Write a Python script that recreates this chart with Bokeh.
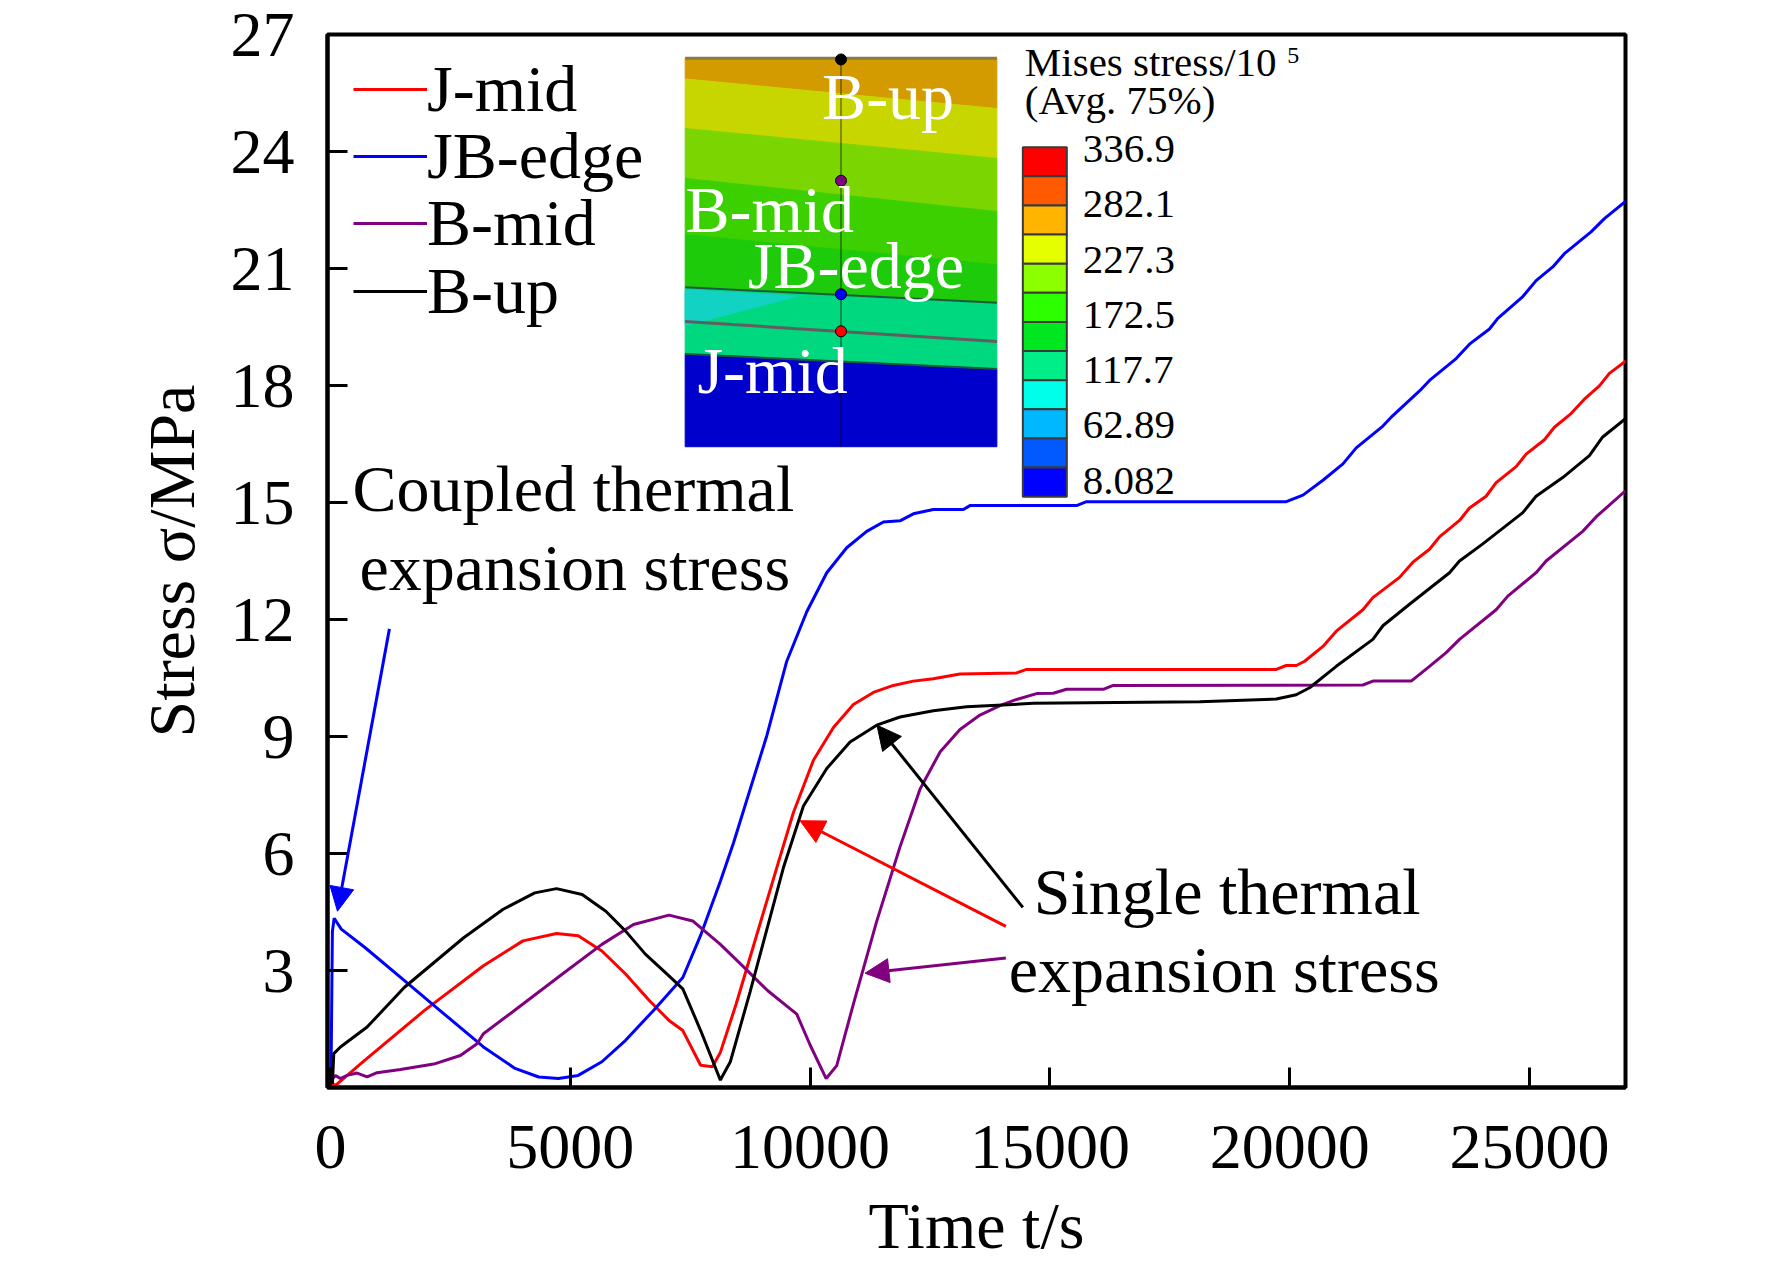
import numpy as np
from bokeh.plotting import figure
from bokeh.models import Range1d, FixedTicker, Arrow, NormalHead, Legend, LegendItem
from bokeh.core.properties import value
from bokeh.embed import file_html
from bokeh.resources import INLINE

FONT = "Liberation Serif"

# ---- stress histories (time in s, stress in MPa) ----
t_jmid = [0, 100, 719, 1954, 3189, 4013, 4713, 5165, 5659, 6153, 6647, 7058, 7346, 7717, 7964,
          8129, 8458, 8952, 9365, 9652, 10069, 10486, 10902, 11319, 11736, 12152, 12569, 13125,
          14305, 14513, 19720, 19928, 20136, 20310, 20692, 20970, 21525, 21733, 22289, 22567,
          22914, 23122, 23539, 23747, 24094, 24303, 24720, 24928, 25310, 25518, 25865, 26143,
          26456, 26664, 27000]
s_jmid = [0.15, 0.05, 0.70, 1.97, 3.12, 3.76, 3.95, 3.89, 3.50, 2.91, 2.23, 1.72, 1.46, 0.57, 0.53,
          0.90, 2.14, 4.18, 5.88, 7.05, 8.39, 9.23, 9.82, 10.13, 10.31, 10.42, 10.48, 10.60,
          10.63, 10.72, 10.72, 10.82, 10.82, 10.93, 11.31, 11.70, 12.25, 12.56, 13.08, 13.47,
          13.80, 14.12, 14.54, 14.86, 15.16, 15.51, 15.92, 16.24, 16.61, 16.93, 17.28, 17.65,
          17.99, 18.31, 18.62]

t_jbedge = [10, 40, 77, 225, 719, 1543, 2366, 3189, 3848, 4342, 4753, 5165, 5659, 6153, 6730,
            7346, 7717, 8129, 8402, 9097, 9513, 9930, 10347, 10763, 11180, 11527, 11874, 12152,
            12569, 13194, 13333, 15555, 15763, 19928, 20275, 20692, 21109, 21386, 21942, 22150,
            22706, 22914, 23469, 23747, 24164, 24338, 24859, 25136, 25483, 25726, 26282, 26560,
            27000]
s_jbedge = [0.10, 4.00, 4.34, 4.06, 3.59, 2.74, 1.89, 1.04, 0.49, 0.27, 0.23, 0.31, 0.66, 1.21, 1.97,
            2.82, 3.90, 5.29, 6.27, 9.02, 10.93, 12.20, 13.20, 13.84, 14.26, 14.50, 14.53, 14.71,
            14.82, 14.82, 14.92, 14.92, 15.02, 15.02, 15.19, 15.57, 15.99, 16.40, 16.96, 17.23,
            17.86, 18.13, 18.69, 19.06, 19.45, 19.72, 20.28, 20.69, 21.04, 21.38, 21.94, 22.28,
            22.72]

t_bmid = [30, 104, 208, 347, 556, 764, 972, 1458, 2153, 2708, 3055, 3189, 4013, 4836, 5659, 6318,
          7058, 7552, 8129, 8624, 9118, 9722, 10000, 10335, 10555, 10902, 11388, 11874, 12291,
          12708, 13125, 13541, 13958, 14305, 14722, 15069, 15347, 16111, 16319, 21525, 21733,
          22532, 22914, 23261, 23539, 24303, 24546, 25136, 25344, 26108, 26386, 27000]
s_bmid = [0.20, 0.31, 0.23, 0.31, 0.37, 0.27, 0.38, 0.46, 0.60, 0.82, 1.12, 1.38, 2.14, 2.91, 3.67,
          4.18, 4.42, 4.27, 3.67, 3.08, 2.48, 1.88, 1.09, 0.23, 0.56, 2.14, 4.26, 6.17, 7.65,
          8.60, 9.18, 9.55, 9.79, 9.95, 10.10, 10.11, 10.21, 10.21, 10.31, 10.32, 10.42,
          10.42, 10.80, 11.15, 11.49, 12.25, 12.60, 13.20, 13.50, 14.26, 14.63, 15.30]

t_bup = [40, 69, 208, 764, 1543, 2777, 3601, 4259, 4713, 5247, 5741, 6153, 6565, 6978, 7346, 7718,
         8129, 8337, 8750, 9444, 9861, 10347, 10833, 11388, 11874, 12569, 13263, 14652, 18124,
         19720, 20136, 20414, 20970, 21733, 21942, 22497, 23331, 23539, 24025, 24859, 25136,
         25691, 26247, 26525, 27000]
s_bup = [0.10, 0.87, 1.04, 1.55, 2.57, 3.84, 4.57, 4.99, 5.10, 4.95, 4.52, 4.01, 3.42, 2.95, 2.53,
         1.46, 0.19, 0.66, 2.46, 5.64, 7.22, 8.18, 8.86, 9.29, 9.50, 9.66, 9.76, 9.85, 9.89,
         9.96, 10.07, 10.25, 10.80, 11.49, 11.84, 12.39, 13.20, 13.50, 13.94, 14.74, 15.16,
         15.64, 16.20, 16.68, 17.15]

series_names = ["J-mid", "JB-edge", "B-mid", "B-up"]
series_colors = ["#FF0000", "#0000FF", "#800080", "#000000"]

x_ticks = [0, 5000, 10000, 15000, 20000, 25000]
y_ticks = [3, 6, 9, 12, 15, 18, 21, 24, 27]

# ---- inset contour picture (Mises stress) ----
inset_x = [7395, 13894]
inset_left_y = [26.39, 25.86, 24.59, 23.31, 21.87, 20.52, 18.81, 16.43]
inset_right_y = [26.39, 25.10, 23.82, 22.46, 21.10, 20.12, 18.42, 16.43]
inset_colors = ["#D49B00", "#C8D600", "#7BD500", "#3CD000", "#1ECB0A", "#00D880", "#0000CC"]
probe_x = 10644
probe_y = [26.36, 23.25, 20.34, 19.39]
probe_colors = ["#000000", "#800080", "#0000FF", "#FF0000"]
probe_names = ["B-up", "B-mid", "JB-edge", "J-mid"]
probe_label_x = [10250, 7400, 8700, 7650]
probe_label_y = [24.85, 21.96, 20.51, 17.83]

cb_colors = ["#FF0000", "#FF5A00", "#FFB400", "#E6FF00", "#8CFF00", "#2EFF00",
             "#00E620", "#00EE88", "#00FFEA", "#00B8FF", "#005AFF", "#0000FF"]
cb_values = ["336.9", "282.1", "227.3", "172.5", "117.7", "62.89", "8.082"]
cb_label_y = [24.07, 22.65, 21.23, 19.81, 18.39, 16.98, 15.56]

p = figure(width=1764, height=1264, x_range=Range1d(-62, 27000), y_range=Range1d(0, 27),
           output_backend="svg", toolbar_location=None,
           min_border_left=327, min_border_right=139, min_border_top=34, min_border_bottom=170)
p.xgrid.grid_line_color = None
p.ygrid.grid_line_color = None
p.outline_line_color = "black"
p.outline_line_width = 4

# inset bands
for i, c in enumerate(inset_colors):
    p.patch([inset_x[0], inset_x[1], inset_x[1], inset_x[0]],
            [inset_left_y[i], inset_right_y[i], inset_right_y[i + 1], inset_left_y[i + 1]],
            fill_color=c, line_color=c, line_width=1)
p.patch([7395, 9727, 7395], [20.46, 20.29, 19.53], fill_color="#12D2C4", line_color="#12D2C4")
p.line(inset_x, [inset_left_y[0], inset_right_y[0]], line_color="#8B7B3A", line_width=3)
p.line(inset_x, [inset_left_y[5], inset_right_y[5]], line_color="#1D5A3A", line_width=2)
p.line(inset_x, [inset_left_y[6], inset_right_y[6]], line_color="#1D5A3A", line_width=2)
p.line(inset_x, [19.64, 19.13], line_color="#5F5F5F", line_width=3)
p.line([probe_x, probe_x], [inset_left_y[-1], inset_left_y[0]], line_color="black",
       line_alpha=0.35, line_width=2)
p.scatter([probe_x] * 4, probe_y, size=11, fill_color=probe_colors, line_color="black",
          line_width=1)
p.text(probe_label_x, probe_label_y, text=probe_names, text_color="white",
       text_font=value(FONT), text_font_size="66px", text_baseline="alphabetic", y_offset=-22)

# colour bar
edges = np.linspace(24.11, 15.15, len(cb_colors) + 1)
p.quad(left=14435, right=15352, top=edges[:-1], bottom=edges[1:], fill_color=cb_colors,
       line_color="#3A3A3A", line_width=2)
p.text([15685] * len(cb_values), cb_label_y, text=cb_values, text_font=value(FONT),
       text_font_size="41px", text_baseline="middle", text_color="black")
p.text([14477, 14477], [25.94, 24.97], text=["Mises stress/10", "(Avg. 75%)"],
       text_font=value(FONT), text_font_size="41px", text_baseline="alphabetic", y_offset=-14)
p.text([19950], [26.25], text=["5"], text_font=value(FONT), text_font_size="24px",
       text_baseline="alphabetic", y_offset=-8)

# curves, one legend box per entry so the rows sit as tight as in the original
all_t = [t_jmid, t_jbedge, t_bmid, t_bup]
all_s = [s_jmid, s_jbedge, s_bmid, s_bup]
legend_y = [960, 893, 826, 758]
for t, s, name, c, ly in zip(all_t, all_s, series_names, series_colors, legend_y):
    r = p.line(t, s, line_color=c, line_width=3)
    lg = Legend(items=[LegendItem(label=name, renderers=[r])], location=(26, ly),
                label_text_font=FONT, label_text_font_size="66px", label_text_color="black",
                glyph_width=74, glyph_height=60, label_standoff=0, padding=0, margin=0,
                border_line_color=None, background_fill_alpha=0)
    p.add_layout(lg)

# annotations
p.text([459, 604, 14664, 14143], [14.80, 12.78, 4.46, 2.45],
       text=["Coupled thermal", "expansion stress", "Single thermal", "expansion stress"],
       text_font=value(FONT), text_font_size="66px", text_baseline="alphabetic", y_offset=-22)

arrow_start = [(1229, 11.76), (14081, 4.13), (14435, 4.62), (14081, 3.32)]
arrow_end = [(146, 4.52), (9790, 6.84), (11394, 9.29), (11144, 2.93)]
arrow_colors = ["#0000FF", "#FF0000", "#000000", "#800080"]
for (x0, y0), (x1, y1), c in zip(arrow_start, arrow_end, arrow_colors):
    p.add_layout(Arrow(end=NormalHead(size=24, fill_color=c, line_color=c),
                       x_start=x0, y_start=y0, x_end=x1, y_end=y1,
                       line_color=c, line_width=3))

# axes
p.xaxis.ticker = FixedTicker(ticks=x_ticks)
p.yaxis.ticker = FixedTicker(ticks=y_ticks)
for ax in (p.xaxis, p.yaxis):
    ax.axis_line_width = 4
    ax.major_tick_line_width = 3
    ax.major_tick_in = 20
    ax.major_tick_out = 0
    ax.minor_tick_line_color = None
    ax.major_label_text_font = FONT
    ax.major_label_text_font_size = "64px"
    ax.major_label_text_color = "black"
    ax.axis_label_text_font = FONT
    ax.axis_label_text_font_size = "66px"
    ax.axis_label_text_font_style = "normal"
    ax.axis_label_text_color = "black"
p.xaxis.major_label_standoff = 38
p.yaxis.major_label_standoff = 33
p.xaxis.axis_label = "Time t/s"
p.yaxis.axis_label = "Stress \u03c3/MPa"
p.xaxis.axis_label_standoff = 18
p.yaxis.axis_label_standoff = 20

open("out.html", "w").write(file_html(p, INLINE))
